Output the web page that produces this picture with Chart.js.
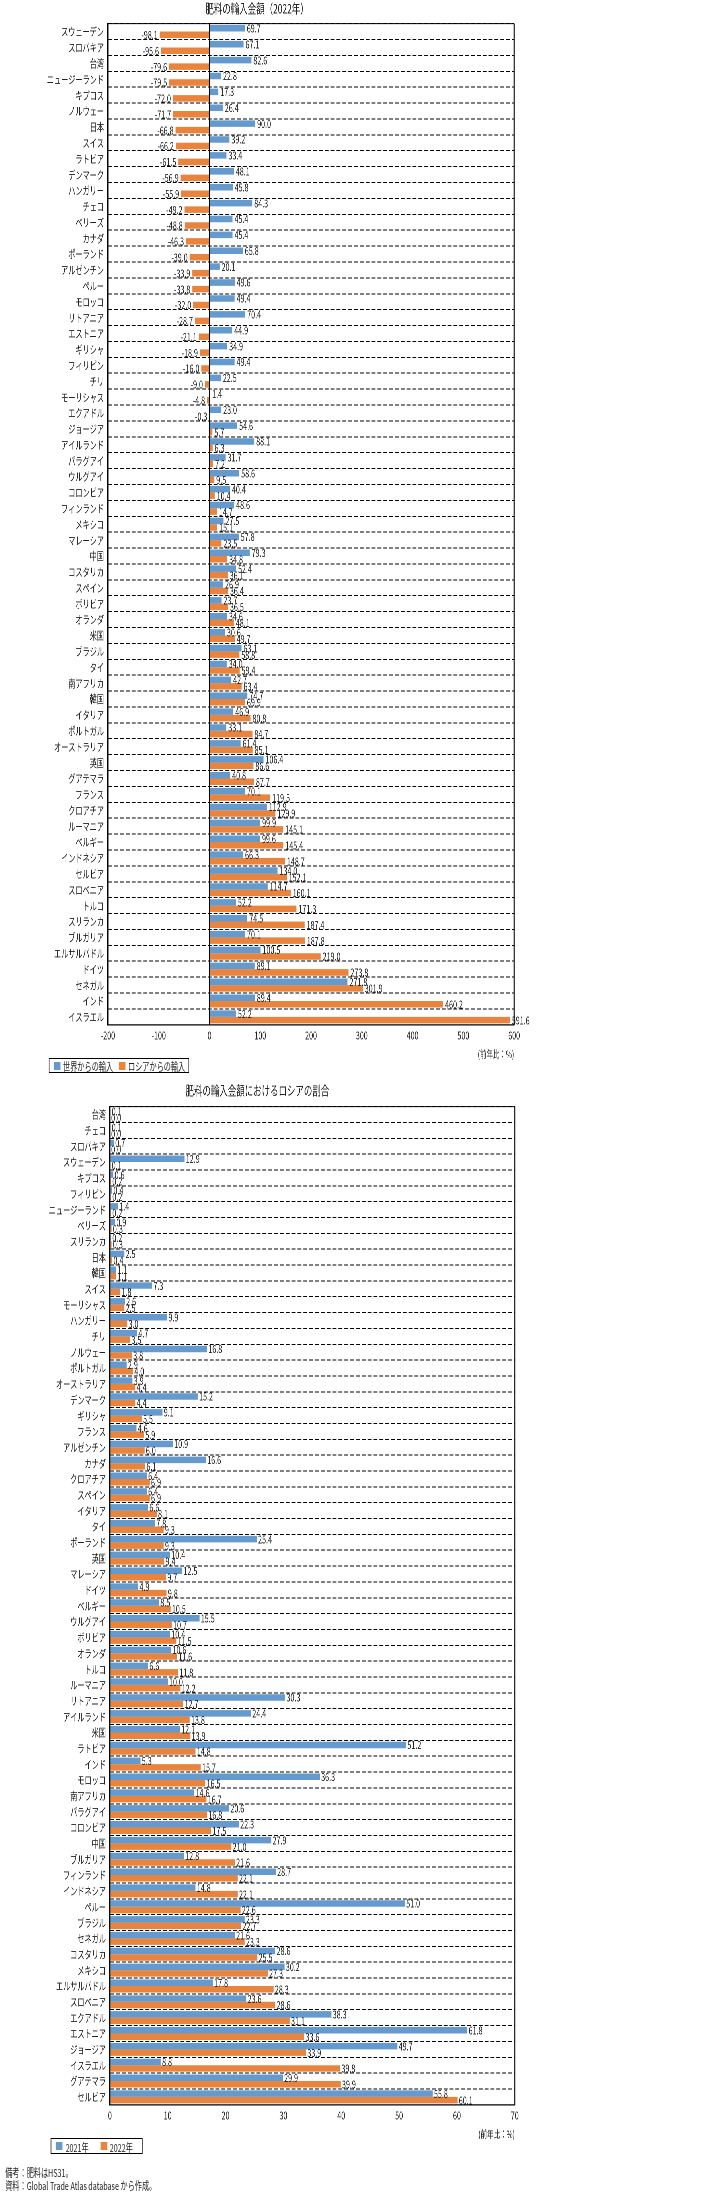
<!DOCTYPE html>
<html><head><meta charset="utf-8">
<script src="https://cdn.jsdelivr.net/npm/chart.js@4.4.0/dist/chart.umd.min.js"></script>
<style>
html,body{margin:0;padding:0;background:#fff;overflow:hidden;}
#page{position:relative;width:1091px;height:2195px;transform:scaleX(0.65);transform-origin:0 0;font-family:"Noto Sans CJK JP","Noto Sans",sans-serif;color:#222;}
#c1wrap{position:absolute;left:0;top:0;width:860px;height:1062px;}
#c2wrap{position:absolute;left:0;top:1078px;width:876px;height:1064px;}
.legend{position:absolute;border:1px solid #000;box-sizing:border-box;font-size:11px;white-space:nowrap;}
.legend span{position:absolute;}
.sw{width:10px;height:8px;}
.notes{position:absolute;left:8px;font-size:11px;line-height:14px;white-space:nowrap;}
</style></head>
<body>
<div id="page">
  <div id="c1wrap"><canvas id="c1"></canvas></div>
  <div class="legend" style="left:75px;top:1058px;width:216px;height:15px;">
    <span class="sw" style="left:7px;top:3px;background:#659ACF"></span>
    <span style="left:21px;top:-1px;">世界からの輸入</span>
    <span class="sw" style="left:107px;top:3px;background:#E9843F"></span>
    <span style="left:121px;top:-1px;">ロシアからの輸入</span>
  </div>
  <div id="c2wrap"><canvas id="c2"></canvas></div>
  <div class="legend" style="left:78px;top:2138px;width:142px;height:16px;">
    <span class="sw" style="left:7px;top:3px;background:#659ACF"></span>
    <span style="left:22px;top:0px;">2021年</span>
    <span class="sw" style="left:76px;top:3px;background:#E9843F"></span>
    <span style="left:90px;top:0px;">2022年</span>
  </div>
  <div class="notes" style="top:2165px;">備考：肥料はHS31。</div>
  <div class="notes" style="top:2178px;">資料：Global Trade Atlas database から作成。</div>
</div>
<script>
// ---- Chart 1: 肥料の輸入金額（2022年） ----
const topCountries = ["スウェーデン","スロバキア","台湾","ニュージーランド","キプロス","ノルウェー","日本","スイス","ラトビア","デンマーク","ハンガリー","チェコ","ベリーズ","カナダ","ポーランド","アルゼンチン","ペルー","モロッコ","リトアニア","エストニア","ギリシャ","フィリピン","チリ","モーリシャス","エクアドル","ジョージア","アイルランド","パラグアイ","ウルグアイ","コロンビア","フィンランド","メキシコ","マレーシア","中国","コスタリカ","スペイン","ボリビア","オランダ","米国","ブラジル","タイ","南アフリカ","韓国","イタリア","ポルトガル","オーストラリア","英国","グアテマラ","フランス","クロアチア","ルーマニア","ベルギー","インドネシア","セルビア","スロベニア","トルコ","スリランカ","ブルガリア","エルサルバドル","ドイツ","セネガル","インド","イスラエル"];
const topWorld = [69.7,67.1,82.6,22.8,17.3,26.4,90.0,39.2,33.4,48.1,45.8,84.3,45.4,45.4,65.8,20.1,49.6,49.4,70.4,44.9,34.9,49.4,22.5,1.4,23.0,54.6,88.1,31.7,58.6,40.4,48.6,27.5,57.8,79.3,52.4,26.9,23.7,34.6,30.6,63.1,34.0,42.7,74.7,46.9,33.1,61.4,106.4,40.8,70.1,112.9,99.9,99.6,66.3,134.0,114.7,52.2,74.5,70.1,100.5,89.1,271.8,89.4,52.2];
const topRussia = [-98.1,-95.6,-79.6,-79.5,-72.0,-71.7,-66.8,-66.2,-61.5,-56.9,-55.9,-49.2,-48.8,-46.3,-39.0,-33.9,-33.8,-32.0,-28.7,-21.1,-18.9,-16.0,-9.0,-4.8,-0.3,5.7,6.3,7.2,9.5,10.4,14.7,15.1,23.5,34.8,36.1,36.4,36.5,48.1,49.7,58.8,59.4,63.4,69.9,80.8,84.7,85.1,86.6,87.7,119.5,129.9,145.1,145.4,148.7,152.1,160.1,171.3,187.4,187.8,219.0,273.8,301.9,460.2,591.6];
const topSeriesNames = ["世界からの輸入","ロシアからの輸入"];
const topXMin = -200, topXMax = 600, topXStep = 100;

// ---- Chart 2: 肥料の輸入金額におけるロシアの割合 ----
const bottomCountries = ["台湾","チェコ","スロバキア","スウェーデン","キプロス","フィリピン","ニュージーランド","ベリーズ","スリランカ","日本","韓国","スイス","モーリシャス","ハンガリー","チリ","ノルウェー","ポルトガル","オーストラリア","デンマーク","ギリシャ","フランス","アルゼンチン","カナダ","クロアチア","スペイン","イタリア","タイ","ポーランド","英国","マレーシア","ドイツ","ベルギー","ウルグアイ","ボリビア","オランダ","トルコ","ルーマニア","リトアニア","アイルランド","米国","ラトビア","インド","モロッコ","南アフリカ","パラグアイ","コロンビア","中国","ブルガリア","フィンランド","インドネシア","ペルー","ブラジル","セネガル","コスタリカ","メキシコ","エルサルバドル","スロベニア","エクアドル","エストニア","ジョージア","イスラエル","グアテマラ","セルビア"];
const share2021 = [0.1,0.1,0.7,12.9,0.6,0.4,1.4,0.9,0.2,2.5,1.1,7.3,2.6,9.9,4.7,16.8,2.9,3.9,15.2,9.1,4.6,10.9,16.6,6.4,6.4,6.6,7.8,25.4,10.4,12.5,4.9,8.5,15.5,10.4,10.6,6.6,10.0,30.3,24.4,12.1,51.2,5.3,36.3,14.6,20.6,22.3,27.9,12.8,28.7,14.8,51.0,23.3,21.6,28.6,30.2,17.8,23.6,38.3,61.8,49.7,8.8,29.9,55.8];
const share2022 = [0.0,0.0,0.0,0.1,0.2,0.2,0.2,0.3,0.3,0.4,1.1,1.8,2.5,3.0,3.5,3.8,4.0,4.4,4.4,5.5,5.9,6.0,6.1,6.9,6.9,8.1,9.3,9.3,9.4,9.7,9.8,10.5,10.7,11.5,11.6,11.8,12.2,12.7,13.8,13.9,14.8,15.7,16.5,16.7,16.8,17.5,21.0,21.6,22.1,22.1,22.6,22.7,23.3,25.5,27.3,28.3,28.6,31.1,33.6,33.9,39.8,39.9,60.1];
const bottomSeriesNames = ["2021年","2022年"];
const bottomXMin = 0, bottomXMax = 70, bottomXStep = 10;

const BLUE = '#659ACF', ORANGE = '#E9843F', TXT = '#222';
const FONT = '"Noto Sans CJK JP","Noto Sans",sans-serif';
Chart.defaults.font.family = FONT;
Chart.defaults.color = TXT;

const valueLabels = {
  id: 'valueLabels',
  afterDatasetsDraw(chart, args, opts) {
    const ctx = chart.ctx;
    ctx.save();
    ctx.font = '11px ' + FONT;
    ctx.fillStyle = TXT;
    ctx.textBaseline = 'middle';
    chart.data.datasets.forEach((ds, di) => {
      const meta = chart.getDatasetMeta(di);
      meta.data.forEach((el, i) => {
        const v = ds.data[i];
        const txt = v.toFixed(1);
        if (v < 0) { ctx.textAlign = 'right'; ctx.fillText(txt, el.x - opts.gap, el.y); }
        else { ctx.textAlign = 'left'; ctx.fillText(txt, el.x + opts.gap, el.y); }
      });
    });
    ctx.restore();
  }
};
const frame = {
  id: 'frame',
  afterDraw(chart) {
    const a = chart.chartArea, ctx = chart.ctx;
    ctx.save();
    ctx.strokeStyle = '#000';
    ctx.lineWidth = 1;
    ctx.beginPath(); ctx.moveTo(a.left, a.top); ctx.lineTo(a.right, a.top);
    ctx.moveTo(a.left, a.bottom); ctx.lineTo(a.right, a.bottom); ctx.stroke();
    ctx.lineWidth = 1.6;
    ctx.beginPath(); ctx.moveTo(a.left, a.top); ctx.lineTo(a.left, a.bottom);
    ctx.moveTo(a.right, a.top); ctx.lineTo(a.right, a.bottom); ctx.stroke();
    ctx.restore();
  }
};

function makeChart(id, cfg) {
  return new Chart(document.getElementById(id), {
    type: 'bar',
    data: {
      labels: cfg.labels,
      datasets: [
        { label: cfg.names[0], data: cfg.a, backgroundColor: BLUE, borderWidth: 0, categoryPercentage: 0.82, barPercentage: 1.0 },
        { label: cfg.names[1], data: cfg.b, backgroundColor: ORANGE, borderWidth: 0, categoryPercentage: 0.82, barPercentage: 1.0 }
      ]
    },
    options: {
      indexAxis: 'y',
      responsive: true,
      maintainAspectRatio: false,
      animation: false,
      devicePixelRatio: 2,
      layout: { padding: { left: 0, right: cfg.padRight, top: 0, bottom: 2 } },
      plugins: {
        legend: { display: false },
        tooltip: { enabled: false },
        title: { display: true, text: cfg.title, color: TXT, font: { size: 13, weight: 'normal' }, padding: cfg.titlePad },
        valueLabels: { gap: cfg.gap }
      },
      scales: {
        x: {
          type: 'linear', min: cfg.xMin, max: cfg.xMax,
          ticks: { stepSize: cfg.xStep, font: { size: 11 }, color: TXT, padding: 4 },
          grid: { drawTicks: false, lineWidth: 1.6, color: (c) => (c.tick && c.tick.value === 0 && cfg.zeroLine) ? '#000' : 'rgba(0,0,0,0)' },
          border: { display: true, color: '#000', width: 1 },
          title: { display: true, text: '(前年比：%)', align: 'end', font: { size: 10 }, color: TXT, padding: { top: 2, bottom: 0 } }
        },
        y: {
          type: 'category',
          afterFit: (s) => { s.width = cfg.yWidth; },
          ticks: { font: { size: 11 }, color: TXT, padding: 6, autoSkip: false },
          grid: { drawTicks: false, offset: true, color: '#000', lineWidth: 1 },
          border: { display: true, color: '#000', width: 1.6, dash: [6, 3] }
        }
      }
    },
    plugins: [valueLabels, frame]
  });
}

makeChart('c1', {
  labels: topCountries, a: topWorld, b: topRussia, names: topSeriesNames,
  title: '肥料の輸入金額（2022年）', titlePad: { top: 1, bottom: 7 },
  xMin: topXMin, xMax: topXMax, xStep: topXStep, zeroLine: true,
  yWidth: 166, padRight: 69, gap: 3
});
makeChart('c2', {
  labels: bottomCountries, a: share2021, b: share2022, names: bottomSeriesNames,
  title: '肥料の輸入金額におけるロシアの割合', titlePad: { top: 5, bottom: 8 },
  xMin: bottomXMin, xMax: bottomXMax, xStep: bottomXStep, zeroLine: false,
  yWidth: 169, padRight: 84, gap: 2
});
</script>
</body></html>
